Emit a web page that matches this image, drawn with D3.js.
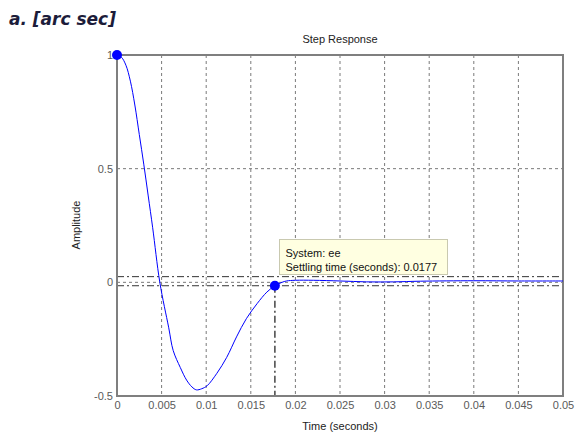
<!DOCTYPE html>
<html>
<head>
<meta charset="utf-8">
<script src="https://cdn.jsdelivr.net/npm/d3@7"></script>
<style>
  html, body { margin: 0; padding: 0; background: #fff; }
  svg { display: block; }
  text { font-family: "Liberation Sans", Arial, sans-serif; }
</style>
</head>
<body>
<svg id="chart" width="579" height="434"></svg>
<script>
// Step response samples (time in seconds, amplitude)
const timeValues = [0, 0.0005, 0.001, 0.0015, 0.002, 0.0025, 0.003, 0.0035, 0.004, 0.0048,
  0.0058, 0.0063, 0.0071, 0.0078, 0.0084, 0.0089, 0.0095, 0.0101, 0.0112, 0.0123,
  0.0134, 0.0145, 0.0157, 0.0168, 0.0177, 0.0185, 0.019, 0.02, 0.022, 0.025,
  0.028, 0.031, 0.034, 0.04, 0.045, 0.05];
const amplitudeValues = [1, 0.99, 0.955, 0.885, 0.78, 0.65, 0.52, 0.38, 0.24, 0,
  -0.2, -0.3, -0.375, -0.43, -0.46, -0.473, -0.468, -0.455, -0.4, -0.33,
  -0.24, -0.16, -0.094, -0.043, -0.015, 0.0, 0.006, 0.009, 0.009, 0.006,
  0.002, 0.002, 0.005, 0.007, 0.006, 0.006];

const xTicks = [0, 0.005, 0.01, 0.015, 0.02, 0.025, 0.03, 0.035, 0.04, 0.045, 0.05];
const yTicks = [-0.5, 0, 0.5, 1];

// Settling characteristics
const finalValue = 0.005;
const settleBand = [finalValue + 0.02, finalValue - 0.02];
const settlingTime = 0.0177;
const settlingAmplitude = -0.015;
const startPoint = [0, 1];
const systemName = "ee";

const svg = d3.select("#chart");

const x = d3.scaleLinear().domain([0, 0.05]).range([117, 563]);
const y = d3.scaleLinear().domain([-0.5, 1]).range([396, 55]);

// heading in the upper-left corner
svg.append("text")
  .attr("x", 9).attr("y", 25)
  .style("font-family", "'DejaVu Sans', sans-serif")
  .style("font-weight", "bold").style("font-style", "italic")
  .style("font-size", "17px").attr("fill", "#1c1c3a")
  .text("a. [arc sec]");

// grid
const grid = svg.append("g").attr("stroke", "#7a7a7a").attr("stroke-dasharray", "3,3").attr("stroke-width", 1);
grid.selectAll("line.gx").data(xTicks.slice(1, -1)).join("line")
  .attr("x1", d => x(d)).attr("x2", d => x(d))
  .attr("y1", y(1)).attr("y2", y(-0.5));
grid.selectAll("line.gy").data(yTicks.slice(1, -1)).join("line")
  .attr("x1", x(0)).attr("x2", x(0.05))
  .attr("y1", d => y(d)).attr("y2", d => y(d));

// settling band
svg.append("g").selectAll("line").data(settleBand).join("line")
  .attr("x1", x(0)).attr("x2", x(0.05))
  .attr("y1", d => y(d)).attr("y2", d => y(d))
  .attr("stroke", "#333").attr("stroke-width", 1)
  .attr("stroke-dasharray", "7,3,2,3");

// vertical markers
svg.append("line")
  .attr("x1", x(startPoint[0])).attr("x2", x(startPoint[0]))
  .attr("y1", y(startPoint[1])).attr("y2", y(-0.5))
  .attr("stroke", "#111").attr("stroke-width", 1.5)
  .attr("stroke-dasharray", "7,3,2,3");
svg.append("line")
  .attr("x1", x(settlingTime)).attr("x2", x(settlingTime))
  .attr("y1", y(settlingAmplitude)).attr("y2", y(-0.5))
  .attr("stroke", "#444").attr("stroke-width", 1.5)
  .attr("stroke-dasharray", "7,3,2,3");

// axes frame
const frame = svg.append("g").attr("fill", "none").attr("stroke", "#7f7f7f").attr("stroke-width", 2);
frame.append("rect")
  .attr("x", x(0)).attr("y", y(1))
  .attr("width", x(0.05) - x(0)).attr("height", y(-0.5) - y(1));

// axes with tick labels
const xAxis = d3.axisBottom(x).tickValues(xTicks).tickSize(0).tickPadding(5)
  .tickFormat(d => d === 0 ? "0" : String(+d.toFixed(3)));
const gx = svg.append("g").attr("transform", `translate(0,${y(-0.5)})`).call(xAxis);
const yAxis = d3.axisLeft(y).tickValues(yTicks).tickSize(0).tickPadding(4)
  .tickFormat(d => String(d));
const gy = svg.append("g").attr("transform", `translate(${x(0)},0)`).call(yAxis);
[gx, gy].forEach(g => {
  g.select(".domain").remove();
  g.selectAll("text").attr("fill", "#5a5a5a")
    .style("font-family", "'Liberation Sans', Arial, sans-serif").style("font-size", "11px");
});

// response curve
const pts = timeValues.map((t, i) => [t, amplitudeValues[i]]);
svg.append("path")
  .datum(pts)
  .attr("fill", "none").attr("stroke", "#0000ff").attr("stroke-width", 1)
  .attr("d", d3.line().x(d => x(d[0])).y(d => y(d[1])).curve(d3.curveCatmullRom));

// markers
svg.selectAll("circle.mk").data([startPoint, [settlingTime, settlingAmplitude]]).join("circle")
  .attr("cx", d => x(d[0])).attr("cy", d => y(d[1])).attr("r", 5)
  .attr("fill", "#0000ff");

// data tip
const tip = svg.append("g").attr("transform", "translate(279.5,239.5)");
tip.append("rect").attr("width", 168).attr("height", 35)
  .attr("fill", "#ffffe1").attr("stroke", "#c9c9b0").attr("stroke-width", 1);
tip.append("text").attr("x", 6).attr("y", 17).attr("font-size", "11px").attr("fill", "#111")
  .text("System: " + systemName);
tip.append("text").attr("x", 6).attr("y", 31).attr("font-size", "11px").attr("fill", "#111")
  .text("Settling time (seconds): " + settlingTime);

// titles
svg.append("text").attr("x", 340).attr("y", 43).attr("text-anchor", "middle")
  .attr("font-size", "11px").attr("fill", "#222").text("Step Response");
svg.append("text").attr("x", 340).attr("y", 430).attr("text-anchor", "middle")
  .attr("font-size", "11px").attr("fill", "#222").text("Time (seconds)");
svg.append("text").attr("transform", "translate(80,225) rotate(-90)").attr("text-anchor", "middle")
  .attr("font-size", "11px").attr("fill", "#222").text("Amplitude");
</script>
</body>
</html>
